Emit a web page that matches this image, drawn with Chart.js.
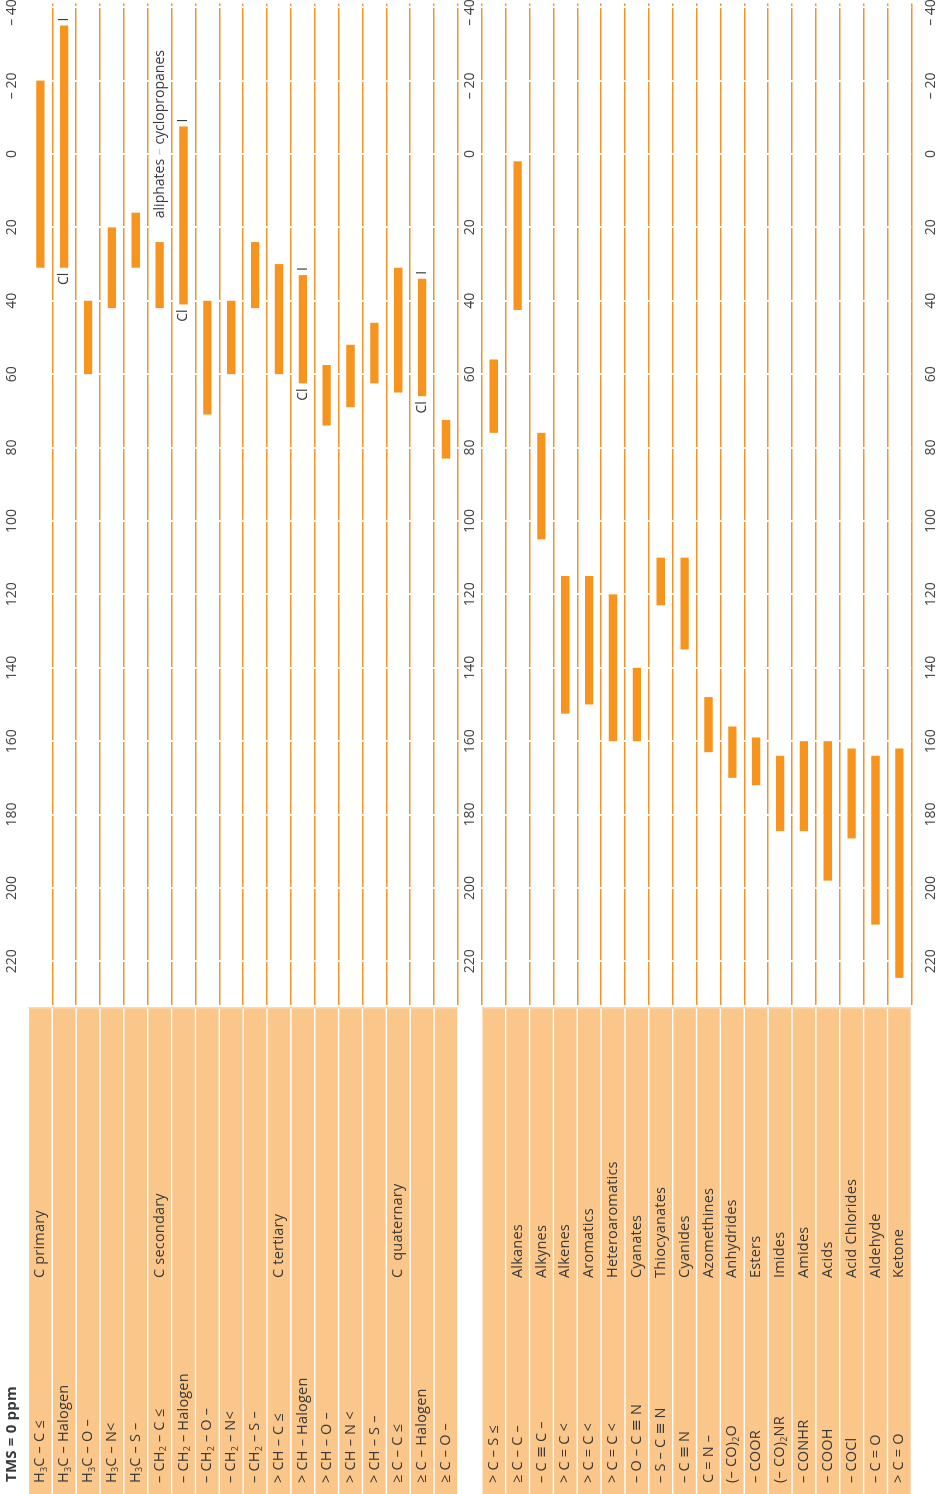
<!DOCTYPE html>
<html>
<head>
<meta charset="utf-8">
<script src="https://cdn.jsdelivr.net/npm/chart.js@4.4.1/dist/chart.umd.min.js"></script>
<style>
  html, body { margin: 0; padding: 0; background: #fff; overflow: hidden; }
  body { width: 940px; height: 1494px; position: relative; }
  /* the chart is laid out lying on its side and turned upright here */
  #wrap { position: absolute; left: 0; top: 0; width: 1494px; height: 940px;
          transform-origin: 0 0; transform: translate(0, 1494px) rotate(-90deg); }
</style>
</head>
<body>
<div id="wrap"><canvas id="shiftChart" width="1494" height="940"></canvas></div>
<script>
// one row per group; the empty row is the gap between the two halves
const formulas = [
  'H_3C – C ≤', 'H_3C – Halogen', 'H_3C – O –', 'H_3C – N<', 'H_3C – S –',
  '– CH_2 – C ≤', '– CH_2 – Halogen', '– CH_2 – O –', '– CH_2 – N<', '– CH_2 – S –',
  '> CH – C ≤', '> CH – Halogen', '> CH – O –', '> CH – N <', '> CH – S –',
  '≥ C – C ≤', '≥ C – Halogen', '≥ C – O –',
  '',
  '> C – S ≤', '≥ C – C –', '– C ≡ C –', '> C = C <', '> C = C <', '> C = C <',
  '– O – C ≡ N', '– S – C ≡ N', '– C ≡ N', 'C = N –', '(– CO)_2O', '– COOR',
  '(– CO)_2NR', '– CONHR', '– COOH', '– COCl', '– C = O', '> C = O'
];
const groupNames = [
  'C primary', '', '', '', '',
  'C secondary', '', '', '', '',
  'C tertiary', '', '', '', '',
  'C  quaternary', '', '',
  '',
  '', 'Alkanes', 'Alkynes', 'Alkenes', 'Aromatics', 'Heteroaromatics',
  'Cyanates', 'Thiocyanates', 'Cyanides', 'Azomethines', 'Anhydrides', 'Esters',
  'Imides', 'Amides', 'Acids', 'Acid Chlorides', 'Aldehyde', 'Ketone'
];
// chemical shift range, ppm
const shiftFrom = [
  -20, -35, 40, 20, 16,
  24, -7.5, 40, 40, 24,
  30, 33, 57.5, 52, 46,
  31, 34, 72.5,
  null,
  56, 2, 76, 115, 115, 120,
  140, 110, 110, 148, 156, 159,
  164, 160, 160, 162, 164, 162
];
const shiftTo = [
  31, 31, 60, 42, 31,
  42, 41, 71, 60, 42,
  60, 62.5, 74, 69, 62.5,
  65, 66, 83,
  null,
  76, 42.5, 105, 152.5, 150, 160,
  160, 123, 135, 163, 170, 172,
  184.5, 184.5, 198, 186.5, 210, 224.5
];
// halogen ends: iodine at the low end, chlorine at the high end
const lowEndNotes = ['', 'I', '', '', '', '', 'I', '', '', '', '', 'I', '', '', '', '', 'I', ''];
const highEndNotes = ['', 'Cl', '', '', '', '', 'Cl', '', '', '', '', 'Cl', '', '', '', '', 'Cl', ''];
const tickValues = [-40, -20, 0, 20, 40, 60, 80, 100, 120, 140, 160, 180, 200, 220];
const noteWords = ['aliphates', '–', 'cyclopropanes'];
const noteRow = 5;
const noteFrom = 17.5;
const refLabel = 'TMS = 0 ppm';

const gapRow = formulas.indexOf('');
const barColour = '#F7941D';
const lineColour = '#F39227';
const cellColour = '#FAC68A';
const textColour = '#3a3a3a';
const fontName = "'Open Sans', 'DejaVu Sans', sans-serif";

Chart.defaults.font.family = fontName;

function drawFormula(ctx, text, x, y) {
  const parts = text.split(/_(\d)/);
  let cx = x;
  parts.forEach((p, k) => {
    if (k % 2) {
      ctx.font = '9px ' + fontName;
      ctx.fillText(p, cx, y + 4);
    } else {
      ctx.font = '14.5px ' + fontName;
      ctx.fillText(p, cx, y);
    }
    cx += ctx.measureText(p).width;
  });
}

function tickText(v) {
  return v < 0 ? ['– ', String(-v)] : ['', String(v)];
}

const tablePlugin = {
  id: 'nmrTable',
  afterDatasetsDraw(chart) {
    const { ctx, chartArea, scales: { x, y } } = chart;
    const rowH = Math.abs(y.getPixelForValue(1) - y.getPixelForValue(0));
    const tableRight = chartArea.left - 3;
    ctx.save();

    // table cells
    formulas.forEach((f, i) => {
      if (i === gapRow) return;
      const yc = y.getPixelForValue(i);
      ctx.fillStyle = cellColour;
      ctx.fillRect(0, yc - rowH / 2 + 0.7, tableRight, rowH - 1.4);
    });
    // thin rule above the table, one per half
    ctx.strokeStyle = '#F8C07C';
    ctx.lineWidth = 1;
    [[0, gapRow - 1], [gapRow + 1, formulas.length - 1]].forEach(([a, b]) => {
      ctx.beginPath();
      ctx.moveTo(tableRight + 0.5, y.getPixelForValue(a) - rowH / 2);
      ctx.lineTo(tableRight + 0.5, y.getPixelForValue(b) + rowH / 2);
      ctx.stroke();
    });

    ctx.fillStyle = textColour;
    ctx.textBaseline = 'middle';
    ctx.textAlign = 'left';
    ctx.letterSpacing = '0.2px';
    formulas.forEach((f, i) => {
      if (i === gapRow) return;
      const yc = y.getPixelForValue(i);
      drawFormula(ctx, f, 11, yc);
      if (groupNames[i]) {
        ctx.font = '14.5px ' + fontName;
        ctx.fillText(groupNames[i], 216, yc);
      }
    });

    ctx.font = 'bold 15px ' + fontName;
    ctx.fillText(refLabel, 12, 12);
    ctx.letterSpacing = '0px';

    // halogen notes next to the bar ends
    ctx.font = '14px ' + fontName;
    lowEndNotes.forEach((t, i) => {
      if (!t) return;
      ctx.textAlign = 'left';
      ctx.fillText(t, x.getPixelForValue(shiftFrom[i]) + 4, y.getPixelForValue(i));
    });
    highEndNotes.forEach((t, i) => {
      if (!t) return;
      ctx.textAlign = 'right';
      ctx.fillText(t, x.getPixelForValue(shiftTo[i]) - 5, y.getPixelForValue(i));
    });

    // aliphates – cyclopropanes
    ctx.textAlign = 'left';
    let nx = x.getPixelForValue(noteFrom);
    const ny = y.getPixelForValue(noteRow);
    noteWords.forEach((w, k) => {
      ctx.fillStyle = k === 1 ? '#F9C08A' : textColour;
      ctx.fillText(w, nx, ny);
      nx += ctx.measureText(w + ' ').width;
    });

    // ppm labels: above, between the halves and below
    const rows = [chartArea.top - 16, y.getPixelForValue(gapRow), chartArea.bottom + 20];
    ctx.fillStyle = '#444';
    ctx.font = '14px ' + fontName;
    x.ticks.forEach(t => {
      const px = x.getPixelForValue(t.value);
      const [sign, num] = tickText(t.value);
      const w = ctx.measureText(num).width;
      rows.forEach(ry => {
        ctx.textAlign = 'left';
        ctx.fillText(num, px - w / 2, ry);
        if (sign) {
          ctx.textAlign = 'right';
          ctx.fillText(sign, px - w / 2, ry);
        }
      });
    });
    ctx.restore();
  }
};

new Chart(document.getElementById('shiftChart'), {
  type: 'bar',
  data: {
    labels: formulas,
    datasets: [{
      label: '13C shift',
      data: shiftFrom.map((a, i) => (a === null ? null : [a, shiftTo[i]])),
      backgroundColor: barColour,
      borderWidth: 0,
      barPercentage: 0.35,
      categoryPercentage: 1
    }]
  },
  options: {
    indexAxis: 'y',
    responsive: false,
    animation: false,
    layout: { padding: { left: 488.6, right: 3.5, top: 28.4, bottom: 28.7 } },
    scales: {
      y: {
        type: 'category',
        offset: true,
        ticks: { display: false },
        grid: {
          offset: true,
          drawTicks: false,
          lineWidth: 1.4,
          color: ctx => (ctx.index === 0 ? 'rgba(0,0,0,0)' : lineColour)
        },
        border: { display: false }
      },
      x: {
        type: 'linear',
        position: 'top',
        reverse: true,
        min: -41,
        max: 232,
        afterBuildTicks: s => { s.ticks = tickValues.map(v => ({ value: v })); },
        ticks: { display: false },
        grid: { color: '#ffffff', lineWidth: 2, drawTicks: false, z: -0.5 },
        border: { display: false }
      }
    },
    plugins: {
      legend: { display: false },
      tooltip: { enabled: false }
    }
  },
  plugins: [tablePlugin]
});
</script>
</body>
</html>
